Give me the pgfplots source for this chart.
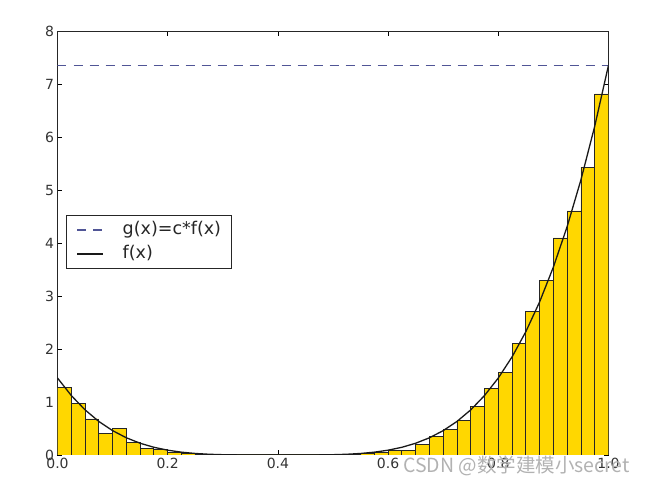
\documentclass[border=0pt]{standalone}
\usepackage{fontspec}
\setmainfont{DejaVu Sans}
\newfontfamily\cjk{Noto Sans CJK SC}
\usepackage{pgfplots}
\pgfplotsset{compat=1.18}
\definecolor{barfill}{RGB}{255,215,0}
\definecolor{dashcol}{RGB}{80,85,150}
\begin{document}
\begin{tikzpicture}
\begin{axis}[name=ax, scale only axis, width=551pt, height=423.5pt,
  xmin=0, xmax=1, ymin=0, ymax=8,
  xtick={0,0.2,0.4,0.6,0.8,1}, ytick={0,1,2,3,4,5,6,7,8},
  xticklabel style={/pgf/number format/.cd, fixed, fixed zerofill, precision=1},
  /pgf/number format/assume math mode=true,
  tick label style={font=\fontsize{14}{16}\selectfont, text=black!80},
  tick align=inside, major tick length=5pt,
  tick style={black, line width=0.8pt},
  axis line style={line width=1pt, black!85},
  legend image code/.code={\draw[#1] (0pt,0pt) -- (26pt,0pt);},
  legend style={at={(0.0154,0.5667)}, anchor=north west, draw=black!85, line width=0.9pt,
    fill=white, inner xsep=10pt, inner ysep=6pt, row sep=7pt, column sep=0pt,
    font=\fontsize{17.5}{20}\selectfont, text=black!85,
    nodes={inner sep=0pt, text height=13pt, text depth=4pt, anchor=west},
    /tikz/every odd column/.append style={column sep=19pt}},
  legend cell align=left,
]
\addplot[ybar interval, fill=barfill, draw=black!85, line width=0.9pt, forget plot] coordinates {
(0.000,1.27) (0.025,0.98) (0.050,0.68) (0.075,0.40) (0.100,0.50)
(0.125,0.23) (0.150,0.12) (0.175,0.10) (0.200,0.04) (0.225,0.02)
(0.250,0.01) (0.275,0.005) (0.300,0) (0.325,0) (0.350,0)
(0.375,0) (0.400,0) (0.425,0) (0.450,0) (0.475,0)
(0.500,0.005) (0.525,0.01) (0.550,0.02) (0.575,0.04) (0.600,0.09)
(0.625,0.08) (0.650,0.19) (0.675,0.35) (0.700,0.49) (0.725,0.65)
(0.750,0.91) (0.775,1.26) (0.800,1.56) (0.825,2.10) (0.850,2.72)
(0.875,3.30) (0.900,4.10) (0.925,4.61) (0.950,5.44) (0.975,6.82)
(1.000,0)};
\addplot[dashcol, line width=1.2pt, dash pattern=on 9pt off 7pt]
  coordinates {(0,7.3636) (1,7.3636)};
\addlegendentry{g(x)=c*f(x)}
\addplot[black!90, line width=1.3pt]
  coordinates {
(0.000,1.4545) (0.025,1.1236) (0.050,0.8526) (0.075,0.6339) (0.100,0.4602)
(0.125,0.3250) (0.150,0.2219) (0.175,0.1456) (0.200,0.0909) (0.225,0.0533)
(0.250,0.0288) (0.275,0.0139) (0.300,0.0057) (0.325,0.0018) (0.350,0.0004)
(0.375,0.0000) (0.400,0.0000) (0.425,0.0000) (0.450,0.0004) (0.475,0.0018)
(0.500,0.0057) (0.525,0.0139) (0.550,0.0288) (0.575,0.0533) (0.600,0.0909)
(0.625,0.1456) (0.650,0.2219) (0.675,0.3250) (0.700,0.4602) (0.725,0.6339)
(0.750,0.8526) (0.775,1.1236) (0.800,1.4545) (0.825,1.8537) (0.850,2.3299)
(0.875,2.8924) (0.900,3.5511) (0.925,4.3164) (0.950,5.1992) (0.975,6.2110)
(1.000,7.3636)};
\addlegendentry{f(x)}
\end{axis}
\node[anchor=west, text=gray!60, font=\cjk\fontsize{19.5}{22}\selectfont, inner sep=0pt]
  at ([xshift=345.5pt, yshift=-11pt]ax.south west) {CSDN @数学建模小secret};
\path ([xshift=-57.5pt,yshift=-31pt]ax.south west) rectangle ([xshift=36.5pt,yshift=31.5pt]ax.north east);
\end{tikzpicture}
\end{document}
